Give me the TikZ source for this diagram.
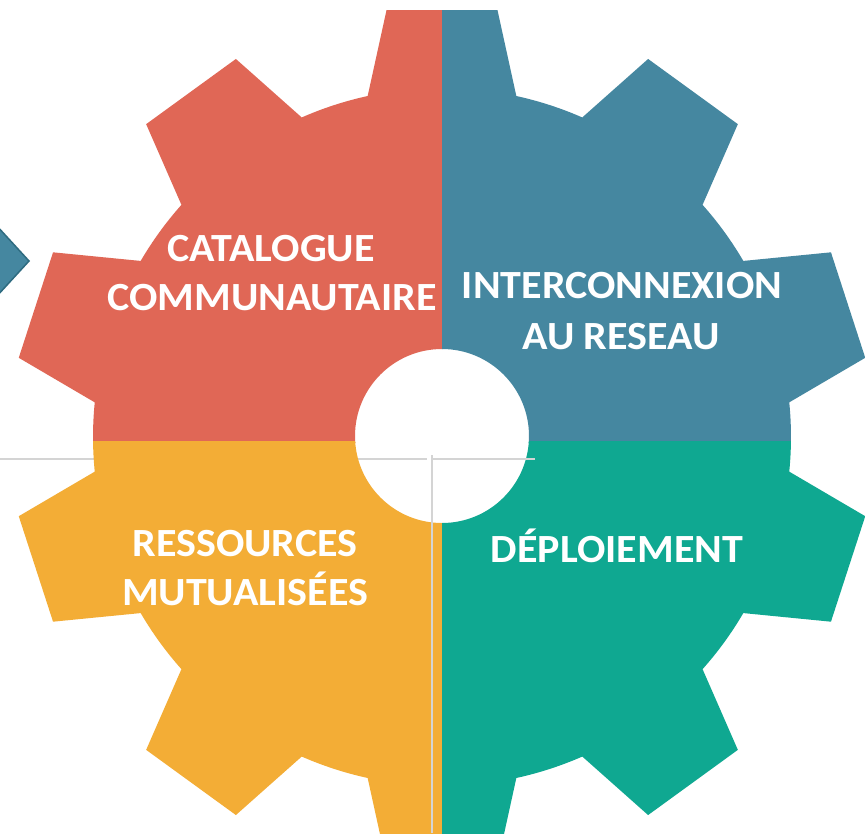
\documentclass[tikz,border=0pt]{standalone}
\usepackage{fontspec}
\setmainfont{Carlito}[FakeStretch=1.05]
\definecolor{gred}{HTML}{E06756}
\definecolor{gblue}{HTML}{4587A0}
\definecolor{gorange}{HTML}{F3AD36}
\definecolor{gteal}{HTML}{0FA891}
\definecolor{gline}{HTML}{D4D4D4}
\definecolor{dblue}{HTML}{2E6B80}
\newcommand{\gearpath}{(77.7:349) \foreach \k in {0,...,9}{ -- ({90+36*\k-12.3}:349) -- ({90+36*\k-7.4}:430.6) -- ({90+36*\k+7.4}:430.6) -- ({90+36*\k+12.3}:349) arc[start angle={90+36*\k+12.3}, end angle={90+36*\k+23.7}, radius=349]} -- cycle}
\tikzset{lbl/.style={text=white, inner sep=0pt, anchor=base, font=\bfseries\fontsize{40}{48}\selectfont},
  guide/.style={gline, line width=2pt}}
\begin{document}
\begin{tikzpicture}[x=1pt,y=1pt]
\useasboundingbox (0,0) rectangle (865,-833);
\clip (0,0) rectangle (865,-833);
\fill[white] (0,0) rectangle (865,-833);
% left arrow
\filldraw[fill=gblue, draw=dblue, line width=1.5pt] (-40,-261) -- (-4,-225) -- (29,-261) -- (-4,-297) -- cycle;
% guide line behind
\draw[guide] (0,-459) -- (427,-459);
\begin{scope}[shift={(442,-437)}]
  \begin{scope}\clip (-500,-5) rectangle (0.6,500);
    \fill[gred,even odd rule] \gearpath (0,1) circle[radius=87]; \end{scope}
  \begin{scope}\clip (0,-5) rectangle (500,500);
    \fill[gblue,even odd rule] \gearpath (0,1) circle[radius=87]; \end{scope}
  \begin{scope}\clip (-500,-4.4) rectangle (0.6,-500);
    \fill[gorange,even odd rule] \gearpath (0,1) circle[radius=87]; \end{scope}
  \begin{scope}\clip (0,-4.4) rectangle (500,-500);
    \fill[gteal,even odd rule] \gearpath (0,1) circle[radius=87]; \end{scope}
\end{scope}
% guide lines on top
\draw[guide] (431,-459) -- (535,-459);
\draw[guide] (431.5,-455) -- (431.5,-833);
% labels
\node[lbl] (c1) at (271,-261) {CATALOGUE};
\node[lbl] (c2) at (272,-310) {COMMUNAUTAIRE};
\node[lbl] (i1) at (622,-298) {INTERCONNEXION};
\node[lbl] (i2) at (621,-349) {AU RESEAU};
\node[lbl] (r1) at (245,-556) {RESSOURCES};
\node[lbl] (r2) at (245,-605) {MUTUALISÉES};
\node[lbl] (d1) at (617,-562) {DÉPLOIEMENT};
\end{tikzpicture}
\end{document}
